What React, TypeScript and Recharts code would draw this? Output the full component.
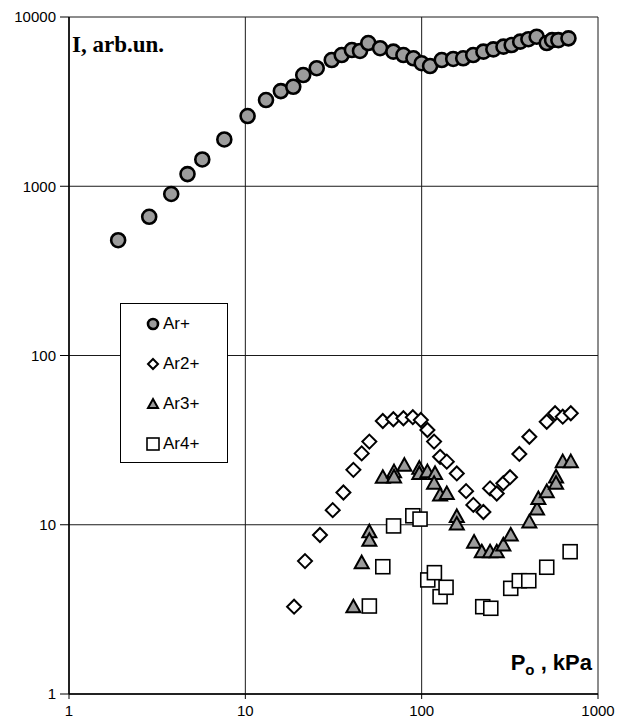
import { ScatterChart, Scatter, XAxis, YAxis, CartesianGrid } from 'recharts';

// stagnation pressure P0 (kPa) and ion signal I (arb. units) for each charge state
const arPlusP = [1.9, 2.85, 3.8, 4.7, 5.7, 7.6, 10.3, 13.1, 15.9, 18.7, 21.3, 25.4, 30.9, 35.2, 40.2, 44.7, 49.8, 58.1, 69.1, 78.8, 89.8, 100, 111.6, 130, 151, 172, 196, 224, 255, 291, 324, 362, 403, 449, 512, 549, 596, 680];
const arPlusI = [480, 660, 900, 1180, 1440, 1890, 2600, 3230, 3650, 3870, 4540, 4980, 5570, 5960, 6380, 6300, 7020, 6540, 6240, 5960, 5700, 5330, 5130, 5570, 5650, 5700, 5960, 6240, 6440, 6680, 6830, 7150, 7390, 7650, 7020, 7300, 7300, 7480];

const ar2P = [18.9, 21.8, 26.5, 31.3, 36.0, 41.0, 45.7, 50.5, 60.2, 69.1, 78.8, 89.1, 98.9, 107.8, 117.6, 127.2, 138.8, 158.2, 178.6, 196.4, 223.9, 244.3, 266.6, 290.6, 317.1, 358, 408, 512, 571, 631, 701];
const ar2I = [3.28, 6.1, 8.7, 12.2, 15.5, 21.1, 26.4, 31.0, 41.0, 42.0, 42.6, 43.2, 41.6, 36.3, 31.0, 25.2, 23.6, 20.1, 15.8, 13.1, 11.9, 16.4, 15.3, 17.6, 19.1, 26.2, 33.1, 40.6, 45.6, 43.5, 45.6];

const ar3P = [41.0, 45.7, 50.5, 50.5, 60.2, 69.7, 69.7, 79.8, 97.0, 97.0, 107.8, 119.1, 117.6, 127.2, 138.8, 158.2, 158.2, 198.2, 219.3, 244.3, 266.6, 290.6, 320, 408, 451, 459, 512, 578, 578, 631, 701];
const ar3I = [3.28, 5.97, 9.1, 8.1, 19.1, 20.6, 19.2, 22.5, 21.6, 20.1, 20.6, 20.1, 17.6, 15.0, 15.3, 11.2, 10.1, 7.9, 6.93, 6.93, 6.93, 7.6, 8.7, 10.4, 12.4, 14.3, 15.7, 19.2, 17.6, 23.6, 23.6];

const ar4P = [50.5, 60.2, 69.3, 89.1, 97.9, 108.3, 118.1, 127.2, 137.5, 222, 246.6, 320, 358, 405, 512, 695];
const ar4I = [3.31, 5.65, 9.84, 11.3, 10.8, 4.72, 5.21, 3.76, 4.27, 3.28, 3.21, 4.21, 4.67, 4.67, 5.61, 6.93];

const pTicks = [1, 10, 100, 1000];
const iTicks = [1, 10, 100, 1000, 10000];

const zip = (p: number[], i: number[]) => p.map((v, k) => ({ p: v, i: i[k] }));

const arPlus = zip(arPlusP, arPlusI);
const ar2 = zip(ar2P, ar2I);
const ar3 = zip(ar3P, ar3I);
const ar4 = zip(ar4P, ar4I);

const GREY = '#9c9c9c';

function Ball({ cx, cy, r = 7 }: any) {
  return <circle cx={cx} cy={cy} r={r} fill={GREY} stroke="#000" strokeWidth={2.6} />;
}

function Diamond({ cx, cy, s = 7 }: any) {
  return (
    <path
      d={`M${cx},${cy - s} L${cx + s},${cy} L${cx},${cy + s} L${cx - s},${cy} Z`}
      fill="#fff"
      stroke="#000"
      strokeWidth={2}
    />
  );
}

function Tri({ cx, cy, s = 7 }: any) {
  return (
    <path
      d={`M${cx},${cy - s} L${cx + s},${cy + s * 0.8} L${cx - s},${cy + s * 0.8} Z`}
      fill={GREY}
      stroke="#000"
      strokeWidth={2}
    />
  );
}

function Box({ cx, cy, s = 7 }: any) {
  return <rect x={cx - s} y={cy - s} width={2 * s} height={2 * s} fill="#fff" stroke="#000" strokeWidth={1.6} />;
}

const legendRows = [
  { name: 'Ar+', icon: <Ball cx={7} cy={8} r={5} /> },
  { name: 'Ar2+', icon: <Diamond cx={7} cy={8} s={5} /> },
  { name: 'Ar3+', icon: <Tri cx={7} cy={8} s={5} /> },
  { name: 'Ar4+', icon: <Box cx={7} cy={8} s={6} /> },
];

export default function App() {
  return (
    <div
      style={{
        position: 'absolute',
        left: 0,
        top: 0,
        width: 621,
        height: 727,
        background: '#fff',
        fontFamily: 'Arial, "Liberation Sans", sans-serif',
      }}
    >
      <ScatterChart width={621} height={727} margin={{ top: 17, right: 23, left: 0, bottom: 0 }}>
        <CartesianGrid stroke="#1a1a1a" strokeWidth={1} />
        <XAxis
          type="number"
          dataKey="p"
          scale="log"
          domain={[1, 1000]}
          ticks={pTicks}
          allowDataOverflow
          height={33}
          tickSize={5}
          tickMargin={6}
          axisLine={{ stroke: '#000', strokeWidth: 1.5 }}
          tickLine={{ stroke: '#000' }}
          tick={{ fill: '#000', fontSize: 15 }}
        />
        <YAxis
          type="number"
          dataKey="i"
          scale="log"
          domain={[1, 10000]}
          ticks={iTicks}
          allowDataOverflow
          width={69}
          tickSize={9}
          tickMargin={4}
          axisLine={{ stroke: '#000', strokeWidth: 1.5 }}
          tickLine={{ stroke: '#000' }}
          tick={{ fill: '#000', fontSize: 15 }}
        />
        <Scatter data={arPlus} shape={(p: any) => <Ball cx={p.cx} cy={p.cy} />} isAnimationActive={false} />
        <Scatter data={ar2} shape={(p: any) => <Diamond cx={p.cx} cy={p.cy} />} isAnimationActive={false} />
        <Scatter data={ar3} shape={(p: any) => <Tri cx={p.cx} cy={p.cy} />} isAnimationActive={false} />
        <Scatter data={ar4} shape={(p: any) => <Box cx={p.cx} cy={p.cy} />} isAnimationActive={false} />
      </ScatterChart>

      <svg width={621} height={727} style={{ position: 'absolute', left: 0, top: 0, pointerEvents: 'none' }}>
        <text x={72} y={52} fontFamily='"Liberation Serif", "Times New Roman", serif' fontWeight="bold" fontSize={23} fill="#000">
          I, arb.un.
        </text>
        <text x={592} y={670} textAnchor="end" fontWeight="bold" fontSize={22} fill="#000">
          <tspan>P</tspan>
          <tspan fontSize={15} dy={5}>o</tspan>
          <tspan dy={-5}> , kPa</tspan>
        </text>
      </svg>

      <div
        style={{
          position: 'absolute',
          left: 120,
          top: 303,
          width: 108,
          height: 160,
          boxSizing: 'border-box',
          border: '1px solid #000',
          background: '#fff',
          paddingLeft: 25,
        }}
      >
        {legendRows.map((row) => (
          <div key={row.name} style={{ display: 'flex', alignItems: 'center', height: 40 }}>
            <svg width={15} height={16} style={{ marginRight: 2 }}>
              {row.icon}
            </svg>
            <span style={{ fontSize: 17, color: '#000' }}>{row.name}</span>
          </div>
        ))}
      </div>
    </div>
  );
}
